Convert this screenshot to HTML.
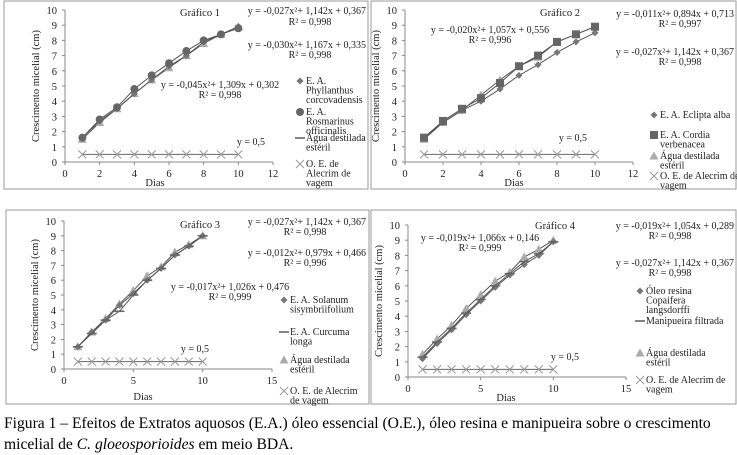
<!DOCTYPE html>
<html><head><meta charset="utf-8">
<style>
body{margin:0;background:#fff;width:737px;height:455px;overflow:hidden;font-family:"Liberation Serif",serif}
svg{position:absolute;left:0;top:0}
.cap{position:absolute;left:4px;top:413px;font-size:15.6px;line-height:21px;color:#000;width:728px}
</style></head><body>
<svg id="s" width="737" height="412"></svg>
<div class="cap">Figura 1 – Efeitos de Extratos aquosos (E.A.) óleo essencial (O.E.), óleo resina e manipueira sobre o crescimento micelial de <i>C. gloeosporioides</i> em meio BDA.</div>
<script>
const days=[1,2,3,4,5,6,7,8,9,10];
const p1a=[1.6,2.7,3.5,4.5,5.4,6.3,7.0,7.9,8.4,8.9];
const p1b=[1.6,2.8,3.6,4.8,5.7,6.5,7.3,8.0,8.4,8.8];
const p1c=[1.5,2.6,3.5,4.5,5.4,6.2,7.0,7.8,8.4,8.9];
const p2a=[1.6,2.6,3.4,4.0,4.8,5.7,6.4,7.2,7.9,8.5];
const p2b=[1.6,2.7,3.5,4.2,5.2,6.3,7.0,7.9,8.4,8.9];
const p2c=[1.5,2.6,3.4,4.4,5.4,6.3,6.9,7.9,8.4,8.9];
const p3a=[1.5,2.5,3.3,4.3,5.1,6.0,6.8,7.7,8.3,9.0];
const p3b=[1.5,2.4,3.3,3.9,5.0,6.0,6.8,7.7,8.3,9.0];
const p3c=[1.5,2.5,3.4,4.4,5.3,6.3,6.9,7.9,8.4,9.0];
const p4a=[1.2,2.2,3.1,4.1,5.0,5.9,6.7,7.4,8.0,8.9];
const p4b=[1.3,2.3,3.2,4.2,5.1,6.0,6.8,7.6,8.1,8.9];
const p4c=[1.5,2.5,3.4,4.5,5.4,6.3,6.9,7.9,8.4,9.0];
const oe=[0.5,0.5,0.5,0.5,0.5,0.5,0.5,0.5,0.5,0.5];
const xt12=[0,2,4,6,8,10,12];
const xt15=[0,5,10,15];
const yt=[0,1,2,3,4,5,6,7,8,9,10];

const S=document.getElementById('s');const NS='http://www.w3.org/2000/svg';
function mk(tag,at,parent){const e=document.createElementNS(NS,tag);for(const k in at)e.setAttribute(k,at[k]);(parent||S).appendChild(e);return e;}
function txt(x,y,s,anchor,g,name,fs){const t=mk('text',{x:x,y:y,'font-size':fs||10.5,'text-anchor':anchor||'start',fill:'#222'},g);t.textContent=s;

return t;}
function marker(g,type,x,y,col){let e;
 if(type==='d')e=mk('polygon',{points:`${x},${y-3.5} ${x+3.5},${y} ${x},${y+3.5} ${x-3.5},${y}`,fill:col},g);
 else if(type==='c')e=mk('circle',{cx:x,cy:y,r:4,fill:col},g);
 else if(type==='s')e=mk('rect',{x:x-4,y:y-4,width:8,height:8,fill:col},g);
 else if(type==='t')e=mk('polygon',{points:`${x},${y-4.5} ${x+4.5},${y+3.5} ${x-4.5},${y+3.5}`,fill:col},g);
 else if(type==='h')e=mk('line',{x1:x-5,y1:y,x2:x+5,y2:y,stroke:col,'stroke-width':1.6},g);
 else {e=mk('path',{d:`M${x-4} ${y-4}L${x+4} ${y+4}M${x+4} ${y-4}L${x-4} ${y+4}`,stroke:col,'stroke-width':1},g);}
 
 }
function panel(cfg){
 const g=mk('g',{});
 
 
 const b=mk('rect',{x:cfg.box[0],y:cfg.box[1],width:cfg.box[2],height:cfg.box[3],fill:'none',stroke:'#999','stroke-width':1},g);
 
 
 const X=v=>cfg.x0+(v/cfg.xmax)*(cfg.x1-cfg.x0), Y=v=>cfg.y0-(v/10)*(cfg.y0-cfg.y1);
 const ax=mk('path',{d:`M${cfg.x0} ${cfg.y1}V${cfg.y0}H${cfg.x1}`,stroke:'#888',fill:'none'},g);
 
 
 yt.forEach(v=>{mk('line',{x1:cfg.x0-3,x2:cfg.x0,y1:Y(v),y2:Y(v),stroke:'#888'},g);txt(cfg.x0-8,Y(v)+4,String(v),'end',g,'y-tick-label');});
 cfg.xt.forEach(v=>{mk('line',{x1:X(v),x2:X(v),y1:cfg.y0,y2:cfg.y0+3,stroke:'#888'},g);txt(X(v),cfg.y0+15,String(v),'middle',g,'x-tick-label');});
 txt(cfg.dias[0],cfg.dias[1],'Dias','middle',g,'x-axis-title');
 const yl=txt(0,0,'Crescimento micelial (cm)','middle',g,'y-axis-title');
 yl.setAttribute('transform',`translate(${cfg.x0-26},${(cfg.y0+cfg.y1)/2}) rotate(-90)`);
 txt(cfg.title[0],cfg.title[1],cfg.title[2],'middle',g,'chart-title');
 cfg.series.forEach(s=>{
  const pts=days.map((d,i)=>X(d)+','+Y(s.v[i])).join(' ');
  const l=mk('polyline',{points:pts,fill:'none',stroke:s.line||'#555','stroke-width':1},g);
  
  
  days.forEach((d,i)=>marker(g,s.m,X(d),Y(s.v[i]),s.c));
 });
 cfg.texts.forEach(t=>txt(t[0],t[1],t[2],t[3]||'start',g,t[4]||'equation-label',10));
 cfg.legend.forEach(e=>{marker(g,e[2],e[0],e[1]-3,e[3]);e[4].forEach((s,i)=>txt(e[0]+6,e[1]+i*9.5,s,'start',g,'legend-entry',10));});
}
const dk='#666',md='#777',lt='#aaa',xc='#999';
panel({name:'chart-1',box:[4,1,364,188],x0:65,x1:273,y0:162,y1:10,xmax:12,xt:xt12,dias:[155,186],title:[200,16,'Gráfico 1'],
 series:[{v:p1c,m:'t',c:lt},{v:p1a,m:'d',c:md},{v:p1b,m:'c',c:dk},{v:oe,m:'x',c:xc,line:'#666'}],
 texts:[[366,14,'y = -0,027x²+ 1,142x + 0,367','end'],[310,25,'R² = 0,998','middle'],[366,48,'y = -0,030x²+ 1,167x + 0,335','end'],[310,58,'R² = 0,998','middle'],[220,88,'y = -0,045x²+ 1,309x + 0,302','middle'],[220,98,'R² = 0,998','middle'],[251,145,'y = 0,5','middle']],
 legend:[[300,84,'d',md,['E. A.','Phyllanthus','corcovadensis']],[300,115,'c',dk,['E. A.','Rosmarinus','officinalis']],[300,141,'h',dk,['Água destilada','estéril']],[300,167,'x',xc,['O. E. de','Alecrim de','vagem']]]});
panel({name:'chart-2',box:[371,1,365,188],x0:405,x1:633,y0:162,y1:10,xmax:12,xt:xt12,dias:[514,186],title:[560,16,'Gráfico 2'],
 series:[{v:p2c,m:'t',c:lt},{v:p2a,m:'d',c:md},{v:p2b,m:'s',c:dk},{v:oe,m:'x',c:xc,line:'#666'}],
 texts:[[734,17,'y = -0,011x²+ 0,894x + 0,713','end'],[680,27,'R² = 0,997','middle'],[734,55,'y = -0,027x²+ 1,142x + 0,367','end'],[680,65,'R² = 0,998','middle'],[490,33,'y = -0,020x²+ 1,057x + 0,556','middle'],[490,43,'R² = 0,996','middle'],[573,141,'y = 0,5','middle']],
 legend:[[654,118,'d',md,['E. A. Eclipta alba']],[654,138,'s',dk,['E. A. Cordia','verbenacea']],[654,159,'t',lt,['Água destilada','estéril']],[654,179,'x',xc,['O. E. de Alecrim de','vagem']]]});
panel({name:'chart-3',box:[6,210,363,194],x0:64,x1:272,y0:369,y1:221,xmax:15,xt:xt15,dias:[143,400],title:[200,228,'Gráfico 3'],
 series:[{v:p3c,m:'t',c:lt},{v:p3a,m:'d',c:md},{v:p3b,m:'h',c:dk},{v:oe,m:'x',c:xc,line:'#666'}],
 texts:[[366,225,'y = -0,027x²+ 1,142x + 0,367','end'],[305,235,'R² = 0,998','middle'],[366,256,'y = -0,012x²+ 0,979x + 0,466','end'],[305,266,'R² = 0,996','middle'],[230,290,'y = -0,017x²+ 1,026x + 0,476','middle'],[230,300,'R² = 0,999','middle'],[195,352,'y = 0,5','middle']],
 legend:[[284,303,'d',md,['E. A. Solanum','sisymbriifolium']],[284,335,'h',dk,['E. A. Curcuma','longa']],[284,363,'t',lt,['Água destilada','estéril']],[284,394,'x',xc,['O. E. de Alecrim','de vagem']]]});
panel({name:'chart-4',box:[371,210,365,194],x0:408,x1:626,y0:377,y1:225,xmax:15,xt:xt15,dias:[506,401],title:[555,229,'Gráfico 4'],
 series:[{v:p4c,m:'t',c:lt},{v:p4a,m:'d',c:md},{v:p4b,m:'h',c:dk},{v:oe,m:'x',c:xc,line:'#666'}],
 texts:[[734,229,'y = -0,019x²+ 1,054x + 0,289','end'],[670,239,'R² = 0,998','middle'],[734,266,'y = -0,027x²+ 1,142x + 0,367','end'],[670,276,'R² = 0,998','middle'],[480,241,'y = -0,019x²+ 1,066x + 0,146','middle'],[480,251,'R² = 0,999','middle'],[565,360,'y = 0,5','middle']],
 legend:[[640,294,'d',md,['Óleo resina','Copaifera','langsdorffi']],[640,324,'h',dk,['Manipueira filtrada']],[640,356,'t',lt,['Água destilada','estéril']],[640,383,'x',xc,['O. E. de Alecrim de','vagem']]]});
</script>
</body></html>
